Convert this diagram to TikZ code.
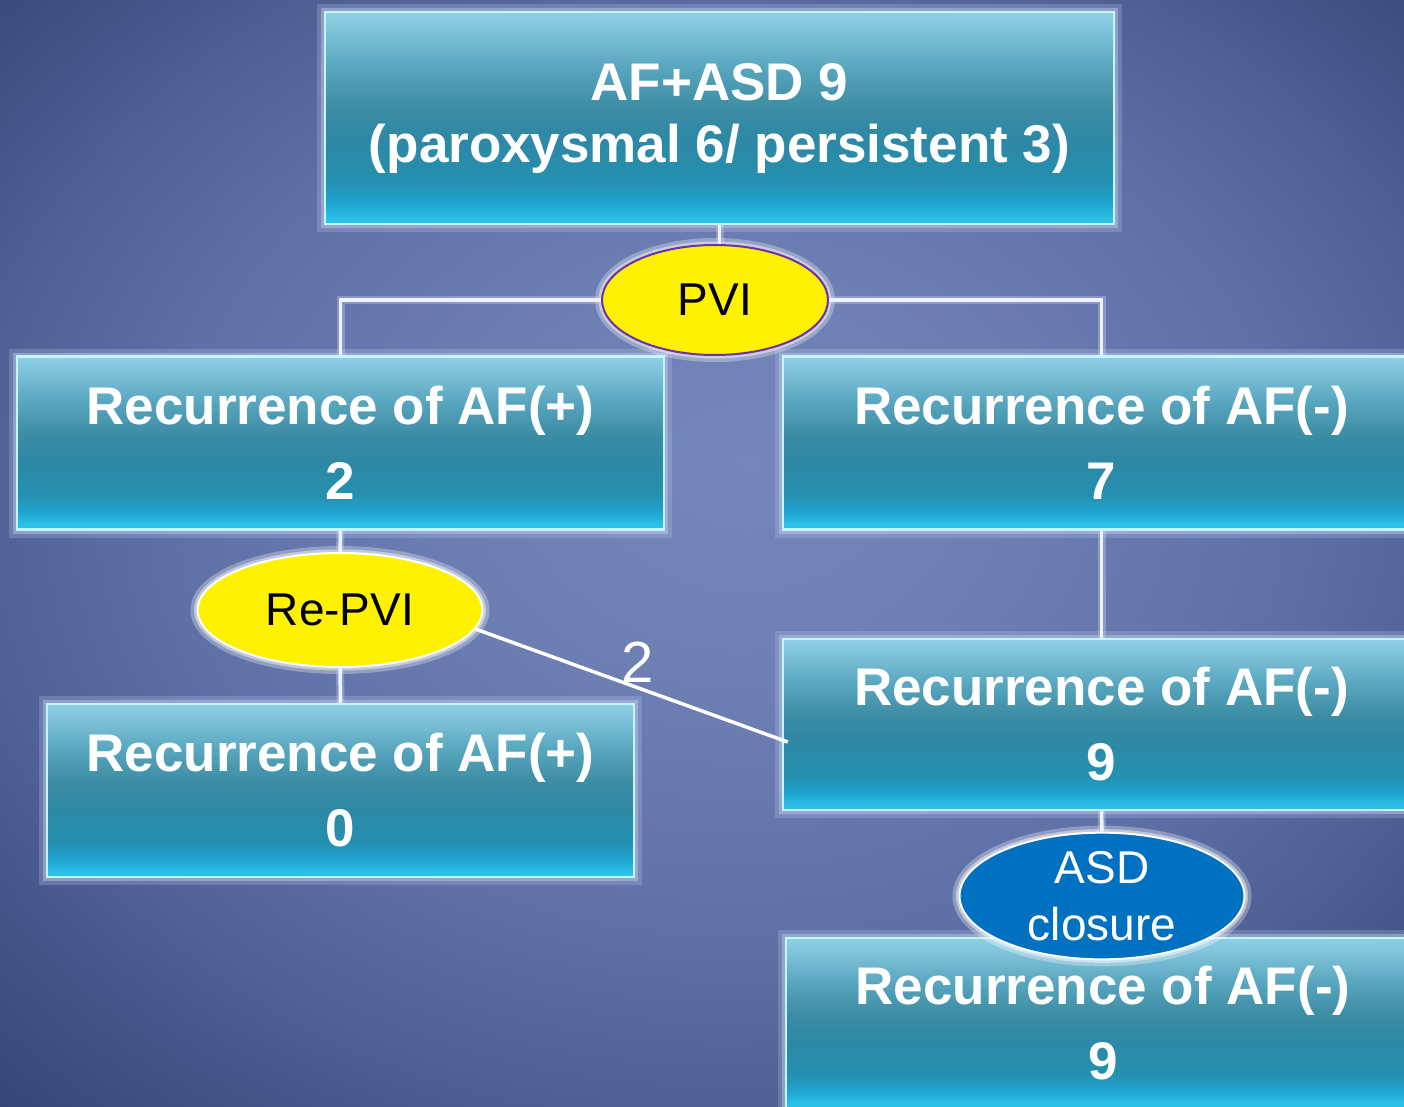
\documentclass[tikz,border=0pt]{standalone}
\usepackage{fontspec}
\setmainfont{Liberation Sans}
\usetikzlibrary{shapes.geometric}

% palette
\definecolor{bgA}{HTML}{7486BA}
\definecolor{bgB}{HTML}{6C7EB2}
\definecolor{bgC}{HTML}{5E70A6}
\definecolor{bgD}{HTML}{4E6094}
\definecolor{bgE}{HTML}{3E5082}
\definecolor{bgF}{HTML}{2C3C6A}
\definecolor{tealTop}{HTML}{8FD0E6}
\definecolor{tealHi}{HTML}{7CC0D8}
\definecolor{tealUp}{HTML}{5AA8C0}
\definecolor{tealMid}{HTML}{3C8CA4}
\definecolor{tealLow}{HTML}{2E88A4}
\definecolor{tealDeep}{HTML}{2490B0}
\definecolor{tealRim}{HTML}{1FA4D0}
\definecolor{tealBot}{HTML}{2BC0E8}
\definecolor{edgeHi}{HTML}{C4F6FF}
\definecolor{glowc}{HTML}{C0CCF0}
\definecolor{pvipurple}{HTML}{7030A0}
\definecolor{asdblue}{HTML}{0070C0}
\definecolor{linec}{HTML}{F0F2FF}

% backdrop: soft light slightly right of and above the middle, darker corners
% (the shaded path is mapped onto the central 50bp of the shading)
\pgfdeclareradialshading{bgshade}{\pgfpoint{1.7bp}{4.2bp}}{%
  color(0bp)=(bgA); color(10bp)=(bgB); color(20bp)=(bgC);
  color(27bp)=(bgD); color(33bp)=(bgE); color(40bp)=(bgF); color(50bp)=(bgF)}

% box face: light top, teal body, bright cyan bottom rim
\pgfdeclareverticalshading{boxshade}{100bp}{%
  color(0bp)=(tealBot); color(26.5bp)=(tealBot); color(30bp)=(tealRim);
  color(35bp)=(tealDeep); color(45bp)=(tealLow); color(52.5bp)=(tealMid);
  color(62.5bp)=(tealUp); color(70bp)=(tealHi); color(75bp)=(tealTop);
  color(100bp)=(tealTop)}

\tikzset{
  glow/.style={preaction={draw=glowc, draw opacity=0.25, line width=16pt},
               preaction={draw=glowc, draw opacity=0.45, line width=8pt}},
  stagebox/.style={rectangle, inner sep=0pt, align=center, text=white,
    glow, shading=boxshade, draw=edgeHi, line width=2.5pt},
  recfont/.style={font=\fontsize{53}{75}\selectfont\bfseries},
  oval/.style={ellipse, inner sep=0pt, align=center,
    preaction={draw=white, draw opacity=0.3, line width=14pt},
    preaction={draw=white, draw opacity=0.45, line width=7pt}},
  link/.style={draw=linec, line width=3.5pt,
    preaction={draw=glowc, draw opacity=0.4, line width=8pt}},
}

\begin{document}
\begin{tikzpicture}[x=1pt, y=-1pt]
  % page and backdrop
  \useasboundingbox (0,0) rectangle (1404,1107);
  \shade[shading=bgshade] (0,0) rectangle (1404,1107);

  % stages
  \node[stagebox, minimum width=789pt, minimum height=212pt,
        font=\fontsize{53}{62}\selectfont\bfseries]
    (top) at (719.5,118) {AF+ASD 9\\(paroxysmal 6/ persistent 3)};

  \node[stagebox, recfont, minimum width=647pt, minimum height=173pt]
    (recA) at (340.5,443) {Recurrence of AF(+)\\2};
  \node[stagebox, recfont, minimum width=637pt, minimum height=173pt]
    (recB) at (1101.5,443) {Recurrence of AF(-)\\7};
  \node[stagebox, recfont, minimum width=637pt, minimum height=171pt]
    (recC) at (1101.5,724.5) {Recurrence of AF(-)\\9};
  \node[stagebox, recfont, minimum width=587pt, minimum height=173pt]
    (recD) at (340.5,790.5) {Recurrence of AF(+)\\0};
  \node[stagebox, recfont, minimum width=634pt, minimum height=170pt]
    (recE) at (1103,1023) {Recurrence of AF(-)\\9};

  % procedures
  \node[oval, fill=yellow, draw=pvipurple, line width=2pt,
        minimum width=226pt, minimum height=110pt,
        font=\fontsize{46}{52}\selectfont]
    (pvi) at (715,300) {PVI};
  \node[oval, fill=yellow, draw=white, line width=2pt,
        minimum width=285pt, minimum height=114pt,
        font=\fontsize{46}{52}\selectfont]
    (repvi) at (340,610) {Re-PVI};
  \node[oval, fill=asdblue, draw=white, line width=2pt, text=white,
        minimum width=285pt, minimum height=112pt,
        font=\fontsize{46}{57}\selectfont]
    (asd) at (1102,896) {ASD\\closure};

  % connectors
  \coordinate (pviTop) at (top.south |- pvi.north);
  \coordinate (crossEnd) at ([xshift=6pt, yshift=-17.5pt]recC.west);
  \draw[link] (top.south) -- (pviTop);
  \draw[link] (pvi.west) -| (recA.north);
  \draw[link] (pvi.east) -| (recB.north);
  \draw[link] (recB.south) -- (recC.north);
  \draw[link] (recA.south) -- (repvi.north);
  \draw[link] (repvi.south) -- (recD.north);
  \draw[link] (recC.south) -- (asd.north);
  \draw[draw=white, line width=3.5pt] (repvi.-8) -- (crossEnd);
  \node[text=white, font=\fontsize{58}{60}\selectfont, anchor=base]
    (crossCount) at (638,682) {2};
\end{tikzpicture}
\end{document}
